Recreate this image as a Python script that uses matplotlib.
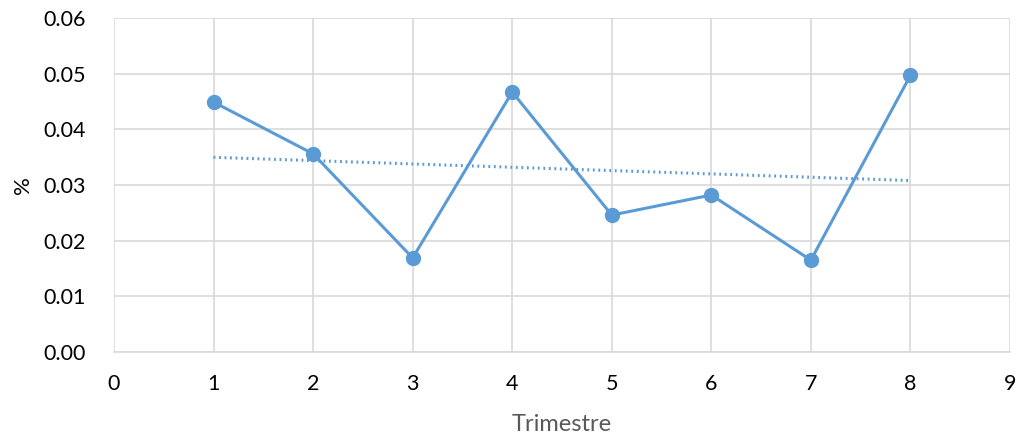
import numpy as np
import matplotlib
matplotlib.use("Agg")
import matplotlib.pyplot as plt

plt.rcParams['font.family'] = ['Lato', 'DejaVu Sans']

# data
trimestre = [1, 2, 3, 4, 5, 6, 7, 8]
valeurs = [0.0449, 0.0356, 0.0169, 0.0467, 0.0246, 0.0282, 0.0165, 0.0497]

blue = "#5B9BD5"
grid_col = "#D9D9D9"

fig = plt.figure(figsize=(10.24, 4.37), dpi=100)
ax = fig.add_axes([114 / 1024, 1 - 352 / 437, (1010 - 114) / 1024, (352 - 18) / 437])

ax.plot(trimestre, valeurs, color=blue, lw=2.2, marker="o", ms=10, zorder=3)

# linear trend line
pente, origine = np.polyfit(trimestre, valeurs, 1)
xt = np.array([trimestre[0], trimestre[-1]])
ax.plot(xt, pente * xt + origine, color=blue, lw=2.2, ls=(0, (0.6, 1.2)), zorder=2)

ax.set_xlim(0, 9)
ax.set_ylim(0, 0.06)
ax.set_xticks(range(0, 10))
ax.set_yticks(np.arange(0, 0.061, 0.01))
ax.set_yticklabels([f"{v:.2f}" for v in np.arange(0, 0.061, 0.01)])
ax.grid(True, color=grid_col, lw=1.2)
ax.set_axisbelow(True)
for s in ["top", "right", "left"]:
    ax.spines[s].set_visible(False)
ax.spines["bottom"].set_color(grid_col)
ax.spines["bottom"].set_linewidth(1.2)
ax.tick_params(axis="y", length=0, labelsize=15.5, pad=20, colors="black")
ax.tick_params(axis="x", length=0, labelsize=15.5, pad=16, colors="black")
ax.set_xlabel("Trimestre", fontsize=17, color="#595959", labelpad=14)
ax.set_ylabel("%", fontsize=16, color="black", labelpad=8)

fig.savefig("out.png", dpi=100)
